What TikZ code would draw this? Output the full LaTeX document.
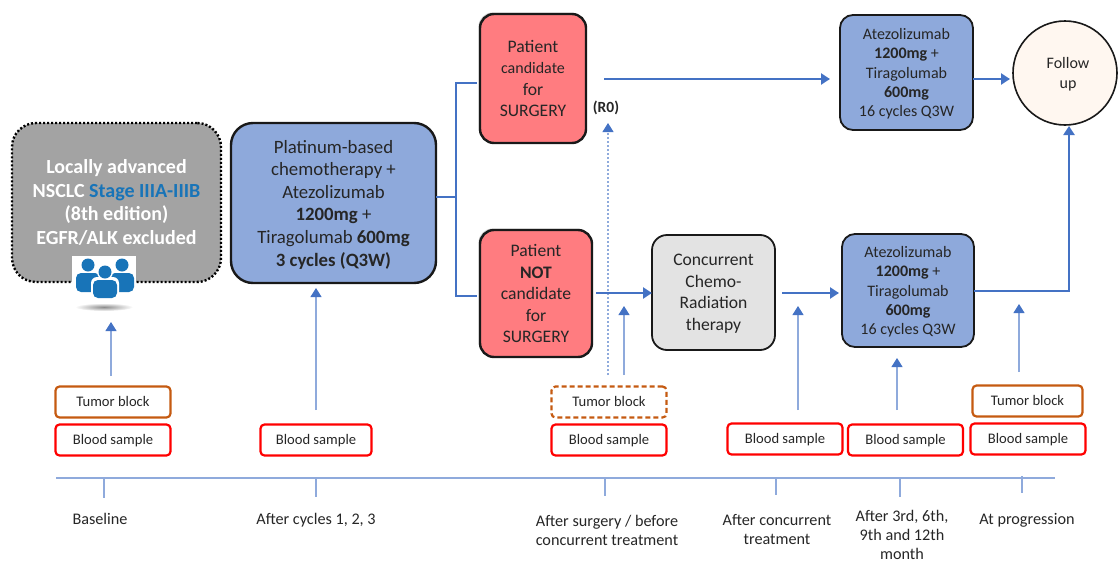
\documentclass[tikz,border=0pt]{standalone}
\usepackage{fontspec}
\setmainfont{Carlito}
\usetikzlibrary{arrows.meta,shadows}
\definecolor{armblue}{HTML}{8EA9DB}
\definecolor{linkblue}{HTML}{4472C4}
\definecolor{thinblue}{HTML}{8FAADC}
\definecolor{stageblue}{HTML}{1874B8}
\definecolor{patientred}{HTML}{FF7C80}
\definecolor{tumororange}{HTML}{C55A11}
\definecolor{inktext}{HTML}{262626}
\tikzset{
  boxsize/.style 2 args={minimum width=#1,minimum height=#2},
  armbox/.style={draw=black!90,line width=1.8pt,rounded corners=13pt,fill=armblue,align=center,text=inktext,text depth=0pt,
    font=\fontsize{16}{19.2}\selectfont},
  redbox/.style={draw=black!90,line width=2.4pt,rounded corners=14pt,fill=patientred,align=center,text=inktext,
    font=\fontsize{17.6}{21.5}\selectfont,
    general shadow={fill=black!55,opacity=.35,shadow xshift=-1.5pt,shadow yshift=1.5pt}},
  samplebox/.style={rounded corners=4pt,align=center,text=inktext,font=\fontsize{14.6}{16}\selectfont,
    minimum height=31pt,line width=2.2pt,text height=10pt,text depth=2pt},
  blood/.style={samplebox,draw=red,minimum width=115pt},
  tumor/.style={samplebox,draw=tumororange,minimum width=115pt},
  timelabel/.style={align=center,text=inktext,font=\fontsize{16.2}{19}\selectfont},
  thick link/.style={draw=linkblue,line width=2.4pt},
  thin link/.style={draw=thinblue,line width=1.1pt,-{Triangle[length=9pt,width=11pt,color=linkblue]}},
  tick link/.style={draw=thinblue,line width=1.1pt},
  head/.style={-{Triangle[length=9pt,width=11pt]}},
}
\begin{document}
\begin{tikzpicture}[x=1pt,y=-1pt]
      \useasboundingbox (0,0) rectangle (1119,573);

      % treatment boxes
      \node (stage) at (116.5,202.5) [boxsize={209pt}{159pt},draw=black,line width=2.4pt,dash pattern=on 2pt off 2pt,rounded corners=24pt,
        fill=black!36,align=center,text=white,font=\bfseries\fontsize{20}{23.6}\selectfont]
        {Locally advanced\\NSCLC \textcolor{stageblue}{Stage IIIA-IIIB}\\(8th edition)\\EGFR/ALK excluded};
      \node (chemo) at (333.5,203) [armbox,boxsize={205pt}{160pt},rounded corners=22pt,line width=2.4pt,
        font=\fontsize{18.8}{22.6}\selectfont]
        {Platinum-based\\chemotherapy +\\Atezolizumab\\\textbf{1200mg} +\\Tiragolumab \textbf{600mg}\\\textbf{3 cycles (Q3W)}};
      \node (cand) at (533,78.5) [redbox,boxsize={106pt}{129pt}]
        {Patient\\{\fontsize{16}{21.5}\selectfont candidate}\\for\\SURGERY};
      \node (notcand) at (536,293.5) [redbox,boxsize={112pt}{127pt}]
        {Patient\\\textbf{NOT}\\candidate\\for\\SURGERY};
      \node (crt) at (713.5,292.5) [armbox,boxsize={123pt}{115pt},fill=black!11,rounded corners=15pt,text depth=-3pt,
        font=\fontsize{17.6}{21.5}\selectfont]
        {Concurrent\\Chemo-\\Radiation\\therapy};
      \node (armtop) at (906.5,72.5) [armbox,boxsize={133pt}{115pt}]
        {Atezolizumab\\\textbf{1200mg} +\\Tiragolumab\\\textbf{600mg}\\16 cycles Q3W};
      \node (armbot) at (908,290.5) [armbox,boxsize={132pt}{113pt}]
        {Atezolizumab\\\textbf{1200mg} +\\Tiragolumab\\\textbf{600mg}\\16 cycles Q3W};
      \node (follow) at (1065,73) [circle,draw=black!90,line width=1.6pt,fill=orange!6,minimum size=104pt,inner sep=0pt,
        align=center,text=inktext,text depth=0pt,font=\fontsize{16}{19.2}\selectfont] {\hspace{6pt}Follow\\\hspace{6pt}up};
      \node (r0) at (606,108) [text=inktext,font=\bfseries\fontsize{15.5}{16}\selectfont] {(R0)};

      % people icon
      \fill[white] (72,256) rectangle (136,298);
      \shade[inner color=black!45,outer color=white] (104,307) ellipse (29pt and 4pt);
      \begin{scope}[fill=stageblue]
        \fill (88,265) circle (6.5pt);
        \fill (122,265) circle (6.5pt);
        \fill[rounded corners=5pt] (76,273) rectangle (100,292);
        \fill[rounded corners=5pt] (110,273) rectangle (134,292);
        \fill[white] (105,272) circle (8pt);
        \fill[white,rounded corners=6pt] (91,277) rectangle (119,300);
        \fill (105,272) circle (6.5pt);
        \fill[rounded corners=5pt] (93,280) rectangle (117,298);
      \end{scope}

      % samples
      \node (tumor1) at (113,402) [tumor] {Tumor block};
      \node (blood1) at (113,440) [blood] {Blood sample};
      \node (blood2) at (316,440) [blood,minimum width=111pt] {Blood sample};
      \node (tumor3) at (609,402) [tumor,dash pattern=on 5pt off 3pt] {Tumor block};
      \node (blood3) at (609,440) [blood] {Blood sample};
      \node (blood4) at (785,439) [blood] {Blood sample};
      \node (blood5) at (905.5,440) [blood] {Blood sample};
      \node (tumor6) at (1027.5,401) [tumor,minimum width=110pt] {Tumor block};
      \node (blood6) at (1028,439) [blood] {Blood sample};

      % time points
      \node (time1) at (100,519) [timelabel] {Baseline};
      \node (time2) at (316,520.5) [timelabel] {After cycles 1, 2, 3};
      \node (time3) at (607,530.5) [timelabel] {After surgery / before\\concurrent treatment};
      \node (time4) at (777,529.5) [timelabel] {After concurrent\\treatment};
      \node (time5) at (902,535) [timelabel] {After 3rd, 6th,\\9th and 12th\\month};
      \node (time6) at (1027,520.5) [timelabel] {At progression};

      % free ends
      \coordinate (axisl) at (56,478);
      \coordinate (axisr) at (1055,478);
      \coordinate (t1a) at (104,478);  \coordinate (t1b) at (104,498);
      \coordinate (t2a) at (316,479);  \coordinate (t2b) at (316,497);
      \coordinate (t3a) at (605,478);  \coordinate (t3b) at (605,496);
      \coordinate (t4a) at (776,478);  \coordinate (t4b) at (776,495);
      \coordinate (t5a) at (900,479);  \coordinate (t5b) at (900,497);
      \coordinate (t6a) at (1022,476); \coordinate (t6b) at (1022,493);
      \coordinate (s1a) at (111,376);  \coordinate (s1b) at (111,322);
      \coordinate (s2a) at (316,410);  \coordinate (s2b) at (316,288);
      \coordinate (s3a) at (624,375);  \coordinate (s3b) at (624,306);
      \coordinate (s4a) at (608,375);  \coordinate (s4b) at (608,123);
      \coordinate (s5a) at (798,410);  \coordinate (s5b) at (798,306);
      \coordinate (s6a) at (897,410);  \coordinate (s6b) at (897,358);
      \coordinate (s7a) at (1019,372); \coordinate (s7b) at (1019,304);
      \coordinate (bus0) at (436,197);
      \coordinate (bus1) at (456,197);
      \coordinate (bus2) at (456,83);
      \coordinate (bus3) at (477,83);
      \coordinate (bus4) at (456,296);
      \coordinate (bus5) at (477,296);
      \coordinate (top0) at (604,79);
      \coordinate (top1) at (830,79);
      \coordinate (top2) at (973,79);
      \coordinate (top3) at (1010,79);
      \coordinate (mid0) at (596,293);
      \coordinate (mid1) at (652,293);
      \coordinate (mid2) at (782,293);
      \coordinate (mid3) at (839,293);
      \coordinate (bot0) at (974,291);
      \coordinate (bot1) at (1069,291);
      \coordinate (bot2) at (1069,126);

      % timeline
      \begin{scope}[every edge/.style={tick link}]
        \path (axisl) edge (axisr);
        \path (t1a) edge (t1b);
        \path (t2a) edge (t2b);
        \path (t3a) edge (t3b);
        \path (t4a) edge (t4b);
        \path (t5a) edge (t5b);
        \path (t6a) edge (t6b);
      \end{scope}

      % sampling arrows
      \begin{scope}[every edge/.style={thin link}]
        \path (s1a) edge (s1b);
        \path (s2a) edge (s2b);
        \path (s3a) edge (s3b);
        \path (s4a) edge[dash pattern=on 2pt off 2pt] (s4b);
        \path (s5a) edge (s5b);
        \path (s6a) edge (s6b);
        \path (s7a) edge (s7b);
      \end{scope}

      % treatment flow
      \draw[thick link] (bus0) -- (bus1);
      \draw[thick link] (bus3) -- (bus2) -- (bus4) -- (bus5);
      \draw[thick link,head] (top0) -- (top1);
      \draw[thick link,head] (top2) -- (top3);
      \draw[thick link,head] (mid0) -- (mid1);
      \draw[thick link,head] (mid2) -- (mid3);
      \draw[thick link,head] (bot0) -- (bot1) -- (bot2);

    \end{tikzpicture}
\end{document}
